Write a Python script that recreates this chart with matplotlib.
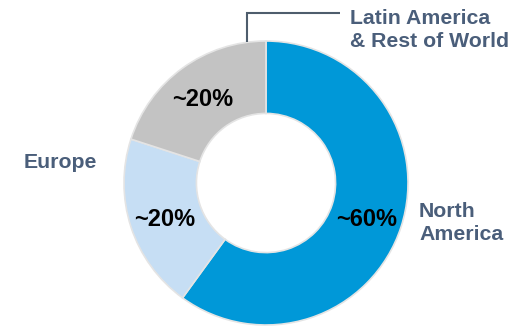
import matplotlib.pyplot as plt

# Data
regions = ['North America', 'Europe', 'Latin America & Rest of World']
shares = [60, 20, 20]
pct_labels = ['~60%', '~20%', '~20%']
colors = ['#0098D8', '#C6DEF4', '#C3C3C3']

label_color = '#4A5E7A'
plt.rcParams['font.family'] = ['Liberation Sans', 'DejaVu Sans']

fig = plt.figure(figsize=(5.28, 3.27), dpi=100)
ax = fig.add_axes([0, 0, 1, 1])

# donut centre/radius in pixel coordinates
cx, cy, r = 266, 144, 142
ax.pie(shares, colors=colors, startangle=90, counterclock=False,
       center=(cx, cy), radius=r, frame=True,
       wedgeprops=dict(width=r * 0.51, edgecolor='#E4E4E4', linewidth=1.2))
ax.set_xlim(0, 528)
ax.set_ylim(0, 327)
ax.axis('off')

# percentage labels
pfs = 17
ax.text(367, 327 - 219, pct_labels[0], ha='center', va='center', fontsize=pfs, fontweight='bold', color='black')
ax.text(165, 327 - 219, pct_labels[1], ha='center', va='center', fontsize=pfs, fontweight='bold', color='black')
ax.text(203, 327 - 99, pct_labels[2], ha='center', va='center', fontsize=pfs, fontweight='bold', color='black')

# region labels
fs = 15.3
ax.text(419, 327 - 223, 'North\nAmerica', ha='left', va='center', fontsize=fs, fontweight='bold',
        color=label_color, linespacing=1.3)
ax.text(24, 327 - 162, 'Europe', ha='left', va='center', fontsize=fs, fontweight='bold', color=label_color)
ax.text(350, 327 - 30, 'Latin America\n& Rest of World', ha='left', va='center', fontsize=fs,
        fontweight='bold', color=label_color, linespacing=1.3)

# leader line for Latin America
ax.plot([247, 247, 340], [327 - 42, 327 - 13, 327 - 13], color='#4E5D6C', linewidth=1.5,
        solid_capstyle='butt', solid_joinstyle='miter')

fig.savefig('out.png', dpi=100)
